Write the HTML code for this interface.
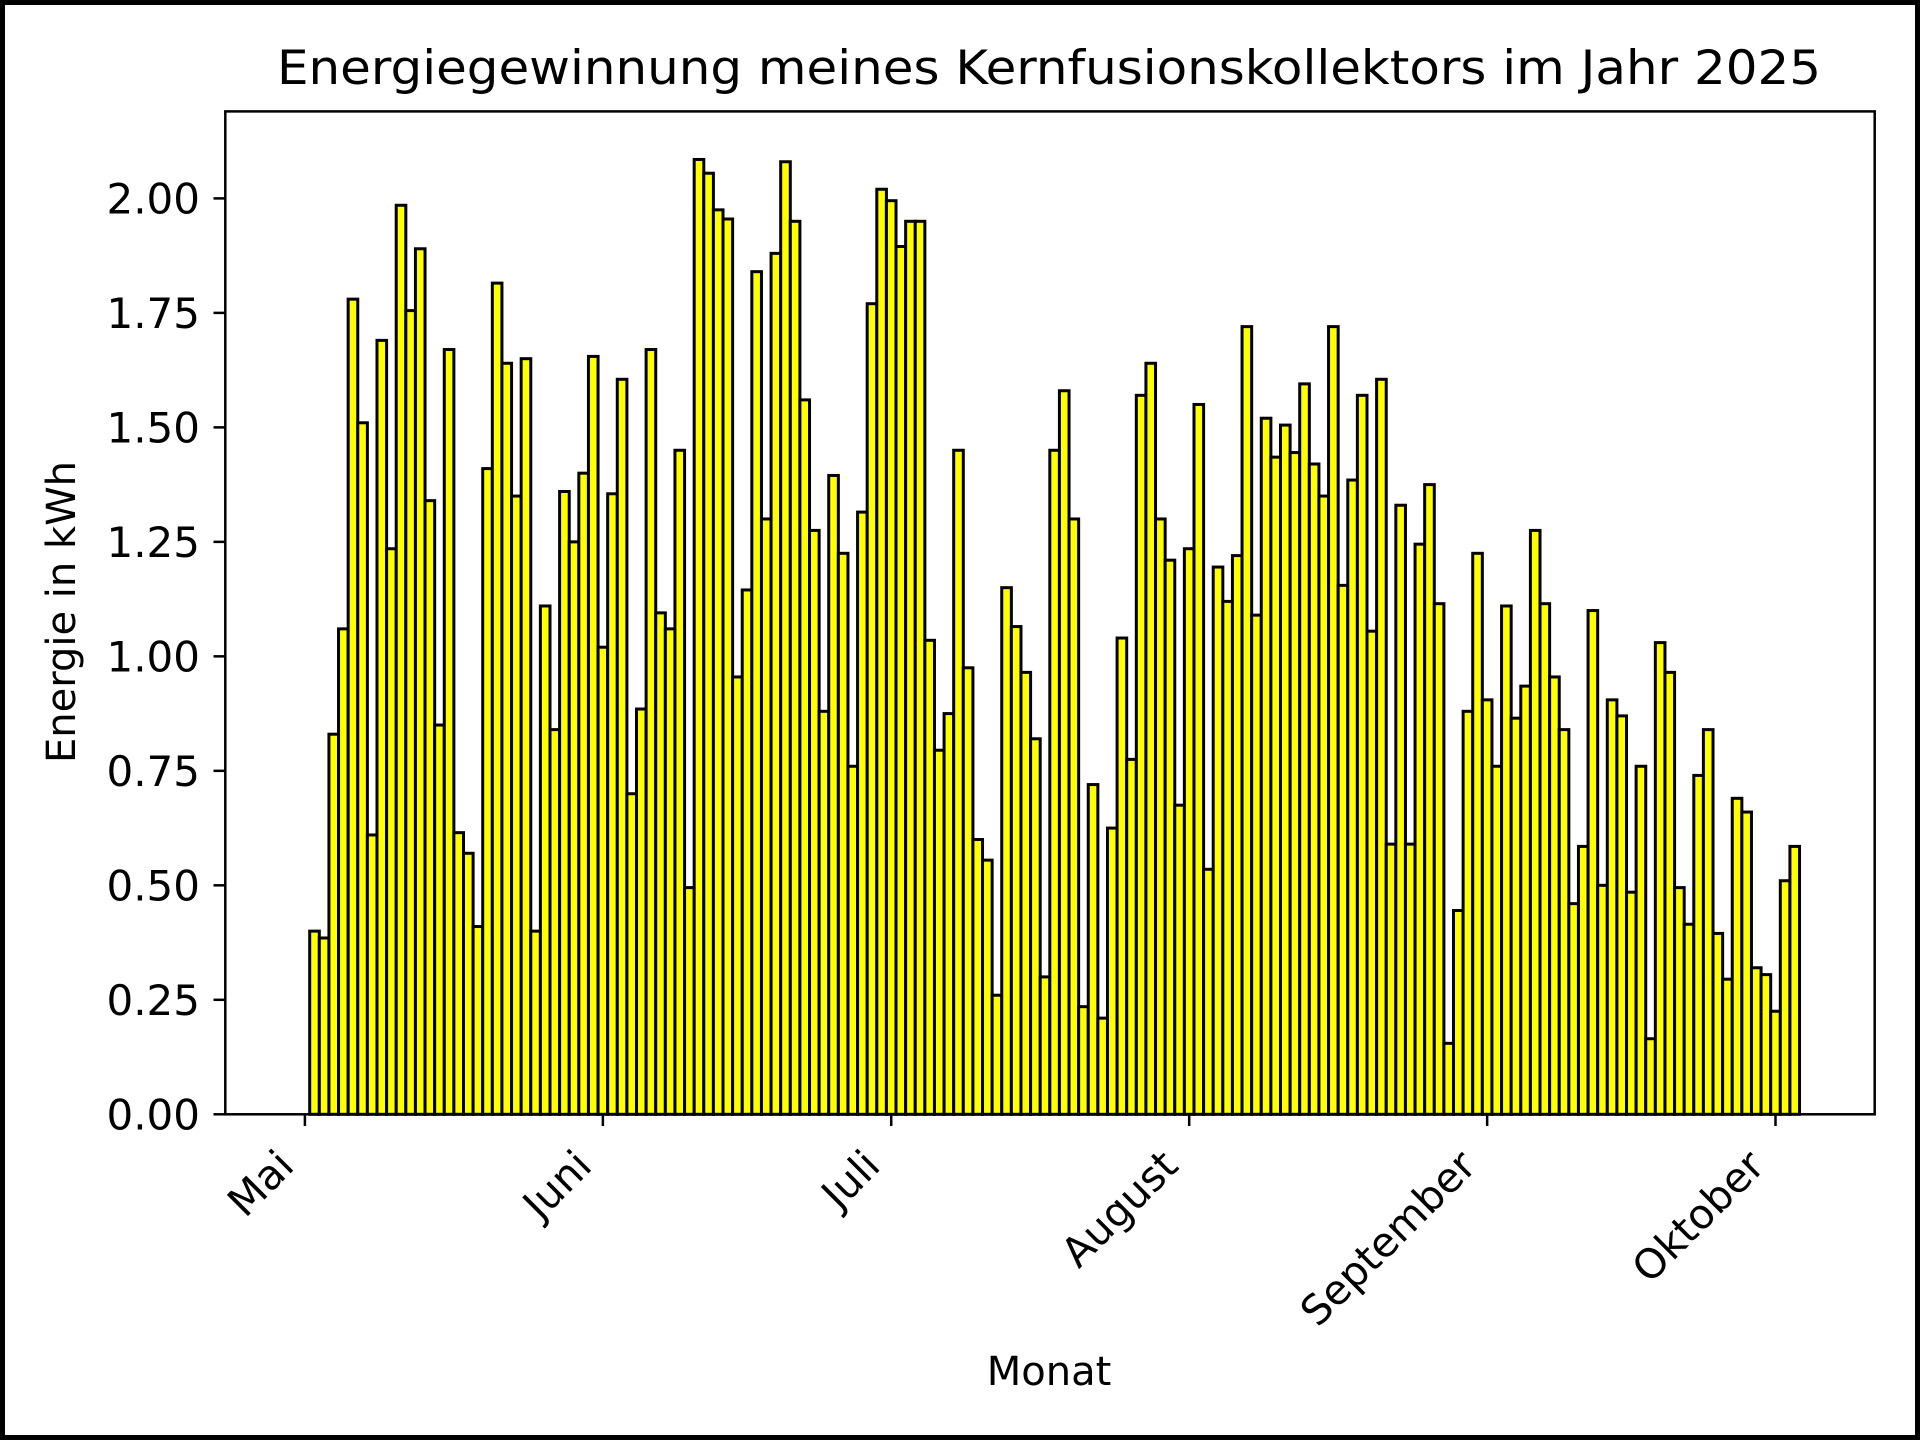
<!DOCTYPE html>
<html><head><meta charset="utf-8"><style>
html,body{margin:0;padding:0;background:#fff}
svg{display:block}
text{font-family:"DejaVu Sans","Liberation Sans",sans-serif;fill:#000}
</style></head><body>
<svg id="chart" width="1920" height="1440" viewBox="0 0 1920 1440" xmlns="http://www.w3.org/2000/svg">
<rect x="2.5" y="2.5" width="1915" height="1435" fill="#fff" stroke="#000" stroke-width="5"/>
<text x="1049" y="84" font-size="47" text-anchor="middle" textLength="1544" lengthAdjust="spacingAndGlyphs">Energiegewinnung meines Kernfusionskollektors im Jahr 2025</text>
<g id="bars"></g>
<g id="yaxis"></g>
<g id="xaxis"></g>
<rect x="225.3" y="111.4" width="1649.4" height="1002.9" fill="none" stroke="#000" stroke-width="2.5"/>
<text x="0" y="0" font-size="40" text-anchor="middle" transform="translate(75,612) rotate(-90)">Energie in kWh</text>
<text x="1049" y="1385" font-size="40" text-anchor="middle">Monat</text>
</svg>
<script>
const values = [0,0.40,0.385,0.83,1.06,1.78,1.51,0.61,1.69,1.235,1.985,1.755,1.89,1.34,0.85,1.67,0.615,0.57,0.41,1.41,1.815,1.64,1.35,1.65,0.40,1.11,0.84,1.36,1.25,1.40,1.655,
1.02,1.355,1.605,0.70,0.885,1.67,1.095,1.06,1.45,0.495,2.085,2.055,1.975,1.955,0.955,1.145,1.84,1.30,1.88,2.08,1.95,1.56,1.275,0.88,1.395,1.225,0.76,1.315,1.77,
2.02,1.995,1.895,1.95,1.95,1.035,0.795,0.875,1.45,0.975,0.60,0.555,0.26,1.15,1.065,0.965,0.82,0.30,1.45,1.58,1.30,0.235,0.72,0.21,0.625,1.04,0.775,1.57,1.64,1.30,
1.21,0.675,1.235,1.55,0.535,1.195,1.12,1.22,1.72,1.09,1.52,1.435,1.505,1.445,1.595,1.42,1.35,1.72,1.155,1.385,1.57,1.055,1.605,0.59,1.33,0.59,1.245,1.375,1.115,0.155,
0.445,0.88,1.225,0.905,0.76,1.11,0.865,0.935,1.275,1.115,0.955,0.84,0.46,0.585,1.10,0.50,0.905,0.87,0.485,0.76,0.165,1.03,0.965,0.495,0.415,0.74,0.84,0.395,0.295,0.69,
0.66,0.32,0.305,0.225,0.51,0.585];
const monthLabels = ["Mai","Juni","Juli","August","September","Oktober"];
const monthDays = [0,31,61,92,123,153];
const yTicks = [0,0.25,0.5,0.75,1.0,1.25,1.5,1.75,2.0];
const yTickLabels = ["0.00","0.25","0.50","0.75","1.00","1.25","1.50","1.75","2.00"];

const NS="http://www.w3.org/2000/svg";
const X0=304.9, PXD=(1775.5-304.9)/153, Y0=1114.3, PXU=(1114.3-198.4)/2;
const xs=d=>X0+d*PXD;
const ys=v=>Y0-v*PXU;
function mk(tag,attrs,parent){const e=document.createElementNS(NS,tag);for(const k in attrs)e.setAttribute(k,attrs[k]);parent.appendChild(e);return e;}

const gb=document.getElementById('bars');
values.forEach((v,i)=>{
  const x=xs(i-0.5), w=PXD, y=ys(v);
  const r=mk('rect',{x:x,y:y,width:w,height:Y0-y,fill:'#ffff00',stroke:'#000','stroke-width':3},gb);
  
  
});

const gy=document.getElementById('yaxis');
yTicks.forEach((t,i)=>{
  const y=ys(t);
  const l=mk('line',{x1:225.3,x2:213.5,y1:y,y2:y,stroke:'#000','stroke-width':2.5},gy);
  
  
  const tx=mk('text',{x:200,y:y+15,'font-size':42,'text-anchor':'end'},gy);
  tx.textContent=yTickLabels[i];
  
  
});

const gx=document.getElementById('xaxis');
monthDays.forEach((d,i)=>{
  const x=xs(d);
  const l=mk('line',{x1:x,x2:x,y1:1114.3,y2:1126,stroke:'#000','stroke-width':2.5},gx);
  
  
  const tx=mk('text',{x:0,y:0,'font-size':41,'text-anchor':'end',transform:'translate('+(x-9)+',1168) rotate(-45)'},gx);
  tx.textContent=monthLabels[i];
  
  
});
</script>
</body></html>
